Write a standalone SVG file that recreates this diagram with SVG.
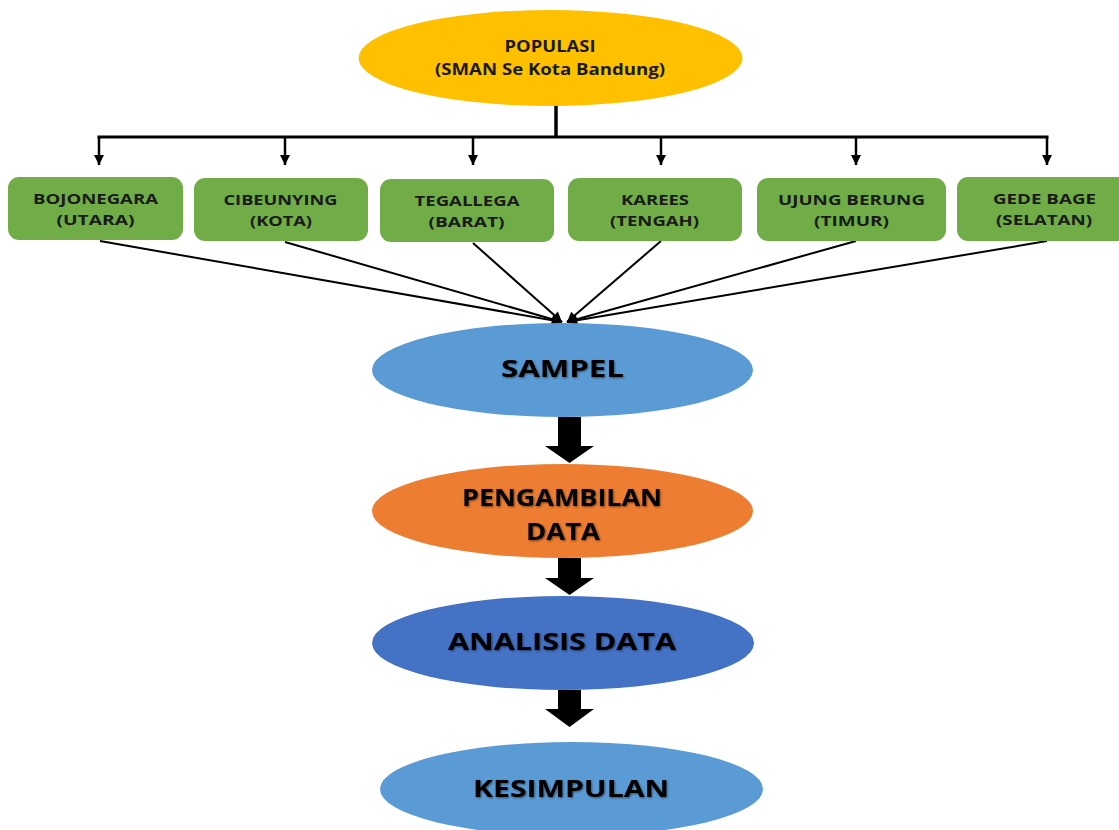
<svg xmlns="http://www.w3.org/2000/svg" width="1119" height="830" viewBox="0 0 1119 830">
<defs>
<style>
.box{fill:#70AD47;}
.bt{font-family:"Open Sans","Liberation Sans",sans-serif;font-weight:bold;font-size:15px;fill:#1a1a1a;text-anchor:middle;}
.pt{font-family:"Open Sans","Liberation Sans",sans-serif;font-weight:bold;font-size:15.5px;fill:#1a1a1a;text-anchor:middle;}
.big{font-family:"Open Sans","Liberation Sans",sans-serif;font-weight:bold;font-size:24px;fill:#000;text-anchor:middle;filter:url(#sh);}
.ln{stroke:#000;fill:none;}
</style>
<filter id="sh" x="-10%" y="-30%" width="120%" height="160%">
<feGaussianBlur in="SourceAlpha" stdDeviation="1.2" result="b"/>
<feOffset in="b" dx="1" dy="1" result="o"/>
<feComponentTransfer in="o" result="s"><feFuncA type="linear" slope="0.5"/></feComponentTransfer>
<feMerge><feMergeNode in="s"/><feMergeNode in="SourceGraphic"/></feMerge>
</filter>
<marker id="ad" viewBox="0 0 10 10" refX="10" refY="5" markerWidth="10" markerHeight="12" markerUnits="userSpaceOnUse" orient="auto">
<path d="M0,0 L10,5 L0,10 z" fill="#000"/>
</marker>
<marker id="ac" viewBox="0 0 10 10" refX="10" refY="5" markerWidth="11" markerHeight="10" markerUnits="userSpaceOnUse" orient="auto">
<path d="M0,0 L10,5 L0,10 z" fill="#000"/>
</marker>
</defs>

<g id="connectors">
<line class="ln" x1="556" y1="105" x2="556" y2="137" stroke-width="3.5"/>
<line class="ln" x1="97.5" y1="137" x2="1048.5" y2="137" stroke-width="3"/>
<line class="ln" x1="99" y1="137" x2="99" y2="165" stroke-width="2.5" marker-end="url(#ad)"/>
<line class="ln" x1="285" y1="137" x2="285" y2="165" stroke-width="2.5" marker-end="url(#ad)"/>
<line class="ln" x1="473" y1="137" x2="473" y2="165" stroke-width="2.5" marker-end="url(#ad)"/>
<line class="ln" x1="661" y1="137" x2="661" y2="165" stroke-width="2.5" marker-end="url(#ad)"/>
<line class="ln" x1="856" y1="137" x2="856" y2="165" stroke-width="2.5" marker-end="url(#ad)"/>
<line class="ln" x1="1047" y1="137" x2="1047" y2="165" stroke-width="2.5" marker-end="url(#ad)"/>
<line class="ln" x1="100" y1="241" x2="562" y2="322" stroke-width="2" marker-end="url(#ac)"/>
<line class="ln" x1="285" y1="242" x2="562" y2="322" stroke-width="2" marker-end="url(#ac)"/>
<line class="ln" x1="473" y1="243" x2="562" y2="322" stroke-width="2" marker-end="url(#ac)"/>
<line class="ln" x1="661" y1="241" x2="567" y2="322" stroke-width="2" marker-end="url(#ac)"/>
<line class="ln" x1="856" y1="241" x2="567" y2="322" stroke-width="2" marker-end="url(#ac)"/>
<line class="ln" x1="1047" y1="241" x2="567" y2="322" stroke-width="2" marker-end="url(#ac)"/>
<polygon points="558,417 581,417 581,446 594,446 569.5,463 545,446 558,446" fill="#000"/>
<polygon points="558,558 581,558 581,578 594,578 569.5,595 545,578 558,578" fill="#000"/>
<polygon points="558,690 581,690 581,709 594,709 569.5,727 545,709 558,709" fill="#000"/>
</g>

<g id="populasi">
<ellipse cx="550.5" cy="58" rx="192" ry="48" fill="#FFC000"/>
<text class="pt" x="550" y="52" textLength="91" lengthAdjust="spacingAndGlyphs">POPULASI</text>
<text class="pt" x="550" y="75" textLength="230" lengthAdjust="spacingAndGlyphs">(SMAN Se Kota Bandung)</text>
</g>

<g id="bojonegara">
<rect class="box" x="8" y="177" width="175" height="63" rx="11"/>
<text class="bt" x="95.5" y="204" textLength="125" lengthAdjust="spacingAndGlyphs">BOJONEGARA</text>
<text class="bt" x="95.5" y="225" textLength="78" lengthAdjust="spacingAndGlyphs">(UTARA)</text>
</g>
<g id="cibeunying">
<rect class="box" x="194" y="178" width="174" height="63" rx="11"/>
<text class="bt" x="280.5" y="205" textLength="114" lengthAdjust="spacingAndGlyphs">CIBEUNYING</text>
<text class="bt" x="281" y="226" textLength="62" lengthAdjust="spacingAndGlyphs">(KOTA)</text>
</g>
<g id="tegallega">
<rect class="box" x="380" y="179" width="174" height="63" rx="11"/>
<text class="bt" x="467" y="206" textLength="105" lengthAdjust="spacingAndGlyphs">TEGALLEGA</text>
<text class="bt" x="466.5" y="227" textLength="76" lengthAdjust="spacingAndGlyphs">(BARAT)</text>
</g>
<g id="karees">
<rect class="box" x="568" y="178" width="174" height="63" rx="11"/>
<text class="bt" x="655" y="205" textLength="68" lengthAdjust="spacingAndGlyphs">KAREES</text>
<text class="bt" x="654.5" y="226" textLength="89" lengthAdjust="spacingAndGlyphs">(TENGAH)</text>
</g>
<g id="ujungberung">
<rect class="box" x="757" y="178" width="189" height="63" rx="11"/>
<text class="bt" x="851.5" y="205" textLength="147" lengthAdjust="spacingAndGlyphs">UJUNG BERUNG</text>
<text class="bt" x="851.5" y="226" textLength="75" lengthAdjust="spacingAndGlyphs">(TIMUR)</text>
</g>
<g id="gedebage">
<rect class="box" x="957" y="177" width="176" height="64" rx="11"/>
<text class="bt" x="1044.5" y="204" textLength="103" lengthAdjust="spacingAndGlyphs">GEDE BAGE</text>
<text class="bt" x="1044" y="225" textLength="96" lengthAdjust="spacingAndGlyphs">(SELATAN)</text>
</g>

<g id="sampel">
<ellipse cx="562.5" cy="370" rx="190.5" ry="47" fill="#5B9BD5"/>
<text class="big" x="562.5" y="377" textLength="123" lengthAdjust="spacingAndGlyphs">SAMPEL</text>
</g>
<g id="pengambilan">
<ellipse cx="562.5" cy="511" rx="190.5" ry="47" fill="#ED7D31"/>
<text class="big" x="562" y="506" textLength="200" lengthAdjust="spacingAndGlyphs">PENGAMBILAN</text>
<text class="big" x="563" y="540" textLength="74" lengthAdjust="spacingAndGlyphs">DATA</text>
</g>
<g id="analisis">
<ellipse cx="563" cy="643" rx="191" ry="47" fill="#4472C4"/>
<text class="big" x="562" y="650" textLength="228" lengthAdjust="spacingAndGlyphs">ANALISIS DATA</text>
</g>
<g id="kesimpulan">
<ellipse cx="571.5" cy="789" rx="191.5" ry="47" fill="#5B9BD5"/>
<text class="big" x="571" y="797" textLength="196" lengthAdjust="spacingAndGlyphs">KESIMPULAN</text>
</g>
</svg>
